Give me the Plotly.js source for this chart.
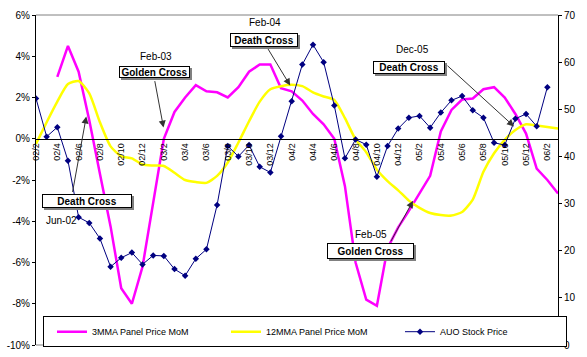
<!DOCTYPE html>
<html>
<head>
<meta charset="utf-8">
<script src="https://cdn.plot.ly/plotly-3.0.1.min.js"></script>
<style>html,body{margin:0;padding:0;background:#fff;}#chart{width:587px;height:357px;}</style>
</head>
<body>
<div id="chart"></div>
<script>
const months = ['02/2','02/3','02/4','02/5','02/6','02/7','02/8','02/9','02/10','02/11','02/12',
  '03/1','03/2','03/3','03/4','03/5','03/6','03/7','03/8','03/9','03/10','03/11','03/12',
  '04/1','04/2','04/3','04/4','04/5','04/6','04/7','04/8','04/9','04/10','04/11','04/12',
  '05/1','05/2','05/3','05/4','05/5','05/6','05/7','05/8','05/9','05/10','05/11','05/12',
  '06/1','06/2','06/3'];
const mma3 = [null,null,3.0,4.5,3.25,0.9,-1.7,-4.25,-7.25,-8.0,-6.2,-3.2,0.0,1.3,2.0,2.6,2.3,2.25,2.0,2.5,
  3.25,3.6,3.6,2.45,2.3,1.85,1.2,0.7,0.0,-2.3,-6.0,-7.8,-8.1,-5.3,-4.3,-3.5,-2.65,-1.8,0.35,1.4,
  1.9,1.95,2.4,2.5,2.0,1.2,0.25,-1.45,-2.0,-2.65];
const mma12 = [-0.25,0.8,1.8,2.65,2.8,2.2,0.8,-0.37,-0.85,-0.95,-1.25,-1.3,-1.32,-1.65,-2.0,-2.1,-2.14,-1.8,-1.15,-0.18,
  0.85,1.8,2.4,2.55,2.62,2.55,2.25,2.05,1.88,1.0,-0.03,-0.65,-1.5,-2.05,-2.5,-3.0,-3.35,-3.6,-3.7,-3.72,
  -3.55,-2.95,-1.6,-0.7,-0.05,0.42,0.7,0.64,0.57,0.5];
const stock = [52.3,44.2,46.2,39.1,27.1,25.9,22.6,16.6,18.5,19.6,17.1,19.0,18.9,16.1,14.7,18.3,20.3,29.7,42.2,40.0,
  42.4,37.8,36.6,44.3,51.7,59.5,63.7,60.0,50.8,39.6,43.6,42.5,35.7,42.2,45.9,48.2,48.6,46.1,49.3,51.9,
  52.8,49.8,48.2,42.9,42.4,48.0,49.0,46.4,54.7,null];
const seriesNames = ['3MMA Panel Price MoM','12MMA Panel Price MoM','AUO Stock Price'];
const leftTickVals = [6,4,2,0,-2,-4,-6,-8,-10];
const leftTickText = ['6%','4%','2%','0%','-2%','-4%','-6%','-8%','-10%'];
const rightTickVals = [0,10,20,30,40,50,60,70];

const idx = months.map((m,i)=>i);
const xTickVals = idx.filter(i=>i%2===0);
const xTickText = xTickVals.map(i=>months[i]);

const FONT = 'Arial, "Liberation Sans", sans-serif';

const traces = [
  {x: idx, y: mma3, name: seriesNames[0], type:'scatter', mode:'lines', yaxis:'y',
   line:{color:'#FF00FF', width:2.5}},
  {x: idx, y: mma12, name: seriesNames[1], type:'scatter', mode:'lines', yaxis:'y',
   line:{color:'#FFFF00', width:2.5, shape:'spline', smoothing:0.6}},
  {x: idx, y: stock, name: seriesNames[2], type:'scatter', mode:'lines+markers', yaxis:'y2',
   line:{color:'#000080', width:1}, marker:{symbol:'diamond', size:5, color:'#000080'}}
];

// callouts: [boxText, dateText, boxX, boxY, boxW, boxH, dateX, dateY, tipX, tipY, ax, ay]
const callouts = [
  ['Death Cross','Jun-02', 4.81,-3.01, 90,14, 2.37,-3.98, 4.72,1.08, -14,77],
  ['Golden Cross','Feb-03', 11.10,3.23, 71,12, 11.29,3.99, 11.97,0.54, -9,-48],
  ['Death Cross','Feb-04', 21.42,4.80, 68,14, 21.51,5.66, 23.86,2.58, -23,-38],
  ['Death Cross','Dec-05', 35.02,3.47, 72,13, 35.30,4.31, 44.87,0.60, -68,-62],
  ['Golden Cross','Feb-05', 31.41,-5.42, 87,16, 31.45,-4.65, 35.39,-3.01, -23,42]
];
const annotations = [];
callouts.forEach(c=>{
  annotations.push({x:c[8], y:c[9], xref:'x', yref:'y', text:'', showarrow:true,
    ax:c[10], ay:c[11], arrowhead:2, arrowsize:1.4, arrowwidth:1, arrowcolor:'#333'});
});
callouts.forEach(c=>{
  annotations.push({x:c[2], y:c[3], xref:'x', yref:'y', text:' ', showarrow:false,
    xshift:2, yshift:-2, width:c[4]-4, height:c[5]-4, borderpad:1, borderwidth:1,
    bordercolor:'#808080', bgcolor:'#808080', font:{family:FONT, size:10}});
  annotations.push({x:c[2], y:c[3], xref:'x', yref:'y', text:'<b>'+c[0]+'</b>', showarrow:false,
    width:c[4]-4, height:c[5]-4, borderpad:1, borderwidth:1, bordercolor:'#000', bgcolor:'#fff',
    font:{family:FONT, size:10, color:'#000'}});
  annotations.push({x:c[6], y:c[7], xref:'x', yref:'y', text:c[1], showarrow:false,
    font:{family:FONT, size:10, color:'#000'}});
});

const layout = {
  width:587, height:357,
  margin:{l:36, r:29, t:15, b:10, pad:0},
  paper_bgcolor:'#fff', plot_bgcolor:'#fff',
  font:{family:FONT, size:10, color:'#000'},
  showlegend:true,
  legend:{orientation:'h', x:0.0134, y:0.0873, xanchor:'left', yanchor:'top',
    bgcolor:'#fff', bordercolor:'#000', borderwidth:1, indentation:8,
    font:{family:FONT, size:9, color:'#000'}, entrywidth:121, entrywidthmode:'pixels',
    itemwidth:30, traceorder:'normal'},
  xaxis:{range:[0,49], anchor:'free', position:0.625, showgrid:false, zeroline:false,
    showline:true, linecolor:'#000', linewidth:1, tickmode:'array', tickvals:xTickVals, ticktext:xTickText,
    tickangle:-90, ticks:'', tickfont:{family:FONT, size:9}, fixedrange:true},
  yaxis:{range:[-10,6], tickmode:'array', tickvals:leftTickVals, ticktext:leftTickText,
    showgrid:false, zeroline:false, showline:true, linecolor:'#000', linewidth:1,
    ticks:'outside', ticklen:3, tickcolor:'#000', tickfont:{family:FONT, size:10}},
  yaxis2:{range:[0,70], overlaying:'y', side:'right', tickmode:'array', tickvals:rightTickVals,
    showgrid:false, zeroline:false, showline:true, linecolor:'#000', linewidth:1,
    ticks:'outside', ticklen:3, tickcolor:'#000', tickfont:{family:FONT, size:10}},
  shapes:[
    {type:'line', xref:'paper', yref:'paper', x0:0, x1:1, y0:1, y1:1, line:{color:'#808080', width:1}},
    {type:'line', xref:'paper', yref:'paper', x0:0, x1:1, y0:0, y1:0, line:{color:'#808080', width:1}}
  ],
  annotations: annotations
};
Plotly.newPlot('chart', traces, layout, {displayModeBar:false, staticPlot:true});
</script>
</body>
</html>
